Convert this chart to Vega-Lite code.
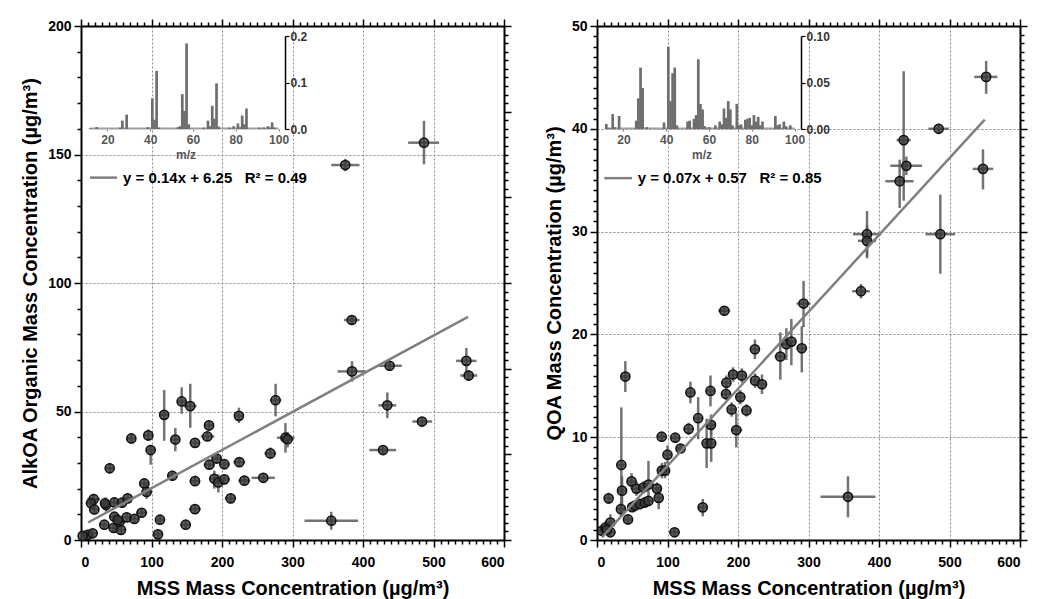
{
  "$schema": "https://vega.github.io/schema/vega-lite/v6.json",
  "background": "white",
  "padding": {"left": 20, "top": 18, "right": 5, "bottom": 2},
  "spacing": 32,
  "config": {
    "view": {"stroke": null},
    "axis": {
      "domainColor": "black", "domainWidth": 2, "tickColor": "black", "tickWidth": 1.5,
      "labelFont": "Liberation Sans", "labelFontWeight": "bold", "labelFontSize": 14, "labelColor": "black",
      "titleFont": "Liberation Sans", "titleFontWeight": "bold", "titleFontSize": 20, "titleColor": "black",
      "labelOverlap": false
    }
  },
  "datasets": {
    "alk": [
      {"x":118,"y":48.7,"xlo":112,"xhi":124,"ylo":38.6,"yhi":58.3},
      {"x":142.8,"y":53.9,"xlo":136,"xhi":150,"ylo":49.1,"yhi":59.4},
      {"x":155,"y":52.1,"xlo":146,"xhi":164,"ylo":43.7,"yhi":60.8},
      {"x":276,"y":54.4,"xlo":268,"xhi":284,"ylo":48.1,"yhi":60.8},
      {"x":224,"y":48.3,"xlo":217,"xhi":231,"ylo":45.5,"yhi":51.5},
      {"x":71.4,"y":39.5,"xlo":65,"xhi":78,"ylo":37.5,"yhi":41.5},
      {"x":95.5,"y":40.7,"xlo":89,"xhi":102,"ylo":38.5,"yhi":43},
      {"x":98.8,"y":35,"xlo":93,"xhi":105,"ylo":29.3,"yhi":37},
      {"x":133.8,"y":39.1,"xlo":127,"xhi":140,"ylo":34.5,"yhi":43.6},
      {"x":161.7,"y":37.8,"xlo":154,"xhi":169,"ylo":36,"yhi":39.6},
      {"x":181.6,"y":44.6,"xlo":175,"xhi":188,"ylo":42.5,"yhi":46.5},
      {"x":179.2,"y":40.3,"xlo":170,"xhi":189,"ylo":38.5,"yhi":42},
      {"x":290,"y":39.8,"xlo":278,"xhi":303,"ylo":34,"yhi":45.5},
      {"x":293,"y":39.2,"xlo":285,"xhi":301,"ylo":36,"yhi":42},
      {"x":268.6,"y":33.7,"xlo":260,"xhi":277,"ylo":31.5,"yhi":36},
      {"x":224.6,"y":30.3,"xlo":216,"xhi":233,"ylo":28.5,"yhi":32},
      {"x":192.4,"y":31.7,"xlo":185,"xhi":200,"ylo":29.8,"yhi":33.5},
      {"x":182,"y":29.3,"xlo":174,"xhi":190,"ylo":27.5,"yhi":31},
      {"x":203.3,"y":29.5,"xlo":196,"xhi":211,"ylo":27.5,"yhi":31.5},
      {"x":40.7,"y":27.9,"xlo":34,"xhi":47,"ylo":26,"yhi":30},
      {"x":129.6,"y":25,"xlo":122,"xhi":137,"ylo":23,"yhi":27},
      {"x":161.7,"y":22.9,"xlo":154,"xhi":169,"ylo":21,"yhi":25},
      {"x":189.1,"y":23.8,"xlo":182,"xhi":196,"ylo":20,"yhi":27},
      {"x":194.8,"y":22.4,"xlo":187,"xhi":203,"ylo":18.5,"yhi":25.5},
      {"x":203.3,"y":23.6,"xlo":195,"xhi":211,"ylo":21.7,"yhi":25.5},
      {"x":231.7,"y":23.1,"xlo":223,"xhi":240,"ylo":21.3,"yhi":25},
      {"x":258.6,"y":24.2,"xlo":242,"xhi":275,"ylo":22.5,"yhi":26},
      {"x":89.8,"y":22,"xlo":83,"xhi":97,"ylo":20,"yhi":24},
      {"x":93.1,"y":18.7,"xlo":86,"xhi":100,"ylo":16,"yhi":21.5},
      {"x":212.3,"y":16.2,"xlo":204,"xhi":220,"ylo":14.5,"yhi":18},
      {"x":161.7,"y":12,"xlo":153,"xhi":170,"ylo":10.3,"yhi":13.7},
      {"x":112,"y":7.9,"xlo":105,"xhi":119,"ylo":6,"yhi":9.8},
      {"x":148.5,"y":5.95,"xlo":141,"xhi":156,"ylo":4.3,"yhi":7.6},
      {"x":109.2,"y":2.2,"xlo":102,"xhi":116,"ylo":0.5,"yhi":3.9},
      {"x":18,"y":15.9,"xlo":9,"xhi":27,"ylo":13.8,"yhi":18},
      {"x":14.2,"y":14.3,"xlo":7,"xhi":22,"ylo":12.3,"yhi":16.3},
      {"x":18.9,"y":11.9,"xlo":12,"xhi":26,"ylo":10,"yhi":13.8},
      {"x":35.5,"y":13.6,"xlo":28,"xhi":43,"ylo":11,"yhi":16.5},
      {"x":34,"y":14.3,"xlo":28,"xhi":40,"ylo":12,"yhi":16.5},
      {"x":47.3,"y":14.6,"xlo":40,"xhi":55,"ylo":12.7,"yhi":16.5},
      {"x":58.2,"y":14.5,"xlo":51,"xhi":65,"ylo":12.6,"yhi":16.4},
      {"x":66.2,"y":16.2,"xlo":59,"xhi":73,"ylo":14.4,"yhi":18},
      {"x":33.1,"y":5.95,"xlo":26,"xhi":40,"ylo":4.2,"yhi":7.7},
      {"x":47.3,"y":9.06,"xlo":40,"xhi":55,"ylo":7.3,"yhi":10.8},
      {"x":46.3,"y":4.7,"xlo":39,"xhi":54,"ylo":3,"yhi":6.5},
      {"x":54.4,"y":6.9,"xlo":47,"xhi":62,"ylo":5.2,"yhi":8.6},
      {"x":56.7,"y":3.9,"xlo":49,"xhi":64,"ylo":2.2,"yhi":5.6},
      {"x":64.8,"y":8.8,"xlo":57,"xhi":72,"ylo":7,"yhi":10.6},
      {"x":75.7,"y":8.2,"xlo":68,"xhi":83,"ylo":6.5,"yhi":10},
      {"x":86,"y":10.6,"xlo":78,"xhi":94,"ylo":8.9,"yhi":12.4},
      {"x":52,"y":7.8,"xlo":45,"xhi":59,"ylo":6,"yhi":9.6},
      {"x":9.5,"y":2,"xlo":4,"xhi":15,"ylo":0.8,"yhi":3.2},
      {"x":16.5,"y":2.6,"xlo":10,"xhi":23,"ylo":1.2,"yhi":4},
      {"x":2.4,"y":1.6,"xlo":0,"xhi":6,"ylo":0.8,"yhi":2.4},
      {"x":374.9,"y":145.9,"xlo":355,"xhi":395,"ylo":143.5,"yhi":148.3},
      {"x":486.5,"y":154.6,"xlo":464,"xhi":508,"ylo":146.2,"yhi":163.1},
      {"x":384,"y":85.6,"xlo":373,"xhi":395,"ylo":84,"yhi":87.2},
      {"x":384.4,"y":65.6,"xlo":364,"xhi":404,"ylo":61.6,"yhi":69.6},
      {"x":437.8,"y":67.8,"xlo":421,"xhi":455,"ylo":65.8,"yhi":69.8},
      {"x":546.6,"y":69.7,"xlo":532,"xhi":561,"ylo":64.7,"yhi":74.7},
      {"x":549.9,"y":64,"xlo":538,"xhi":562,"ylo":62,"yhi":66},
      {"x":434.5,"y":52.4,"xlo":422,"xhi":447,"ylo":47.4,"yhi":57.4},
      {"x":483.7,"y":46.1,"xlo":470,"xhi":498,"ylo":44.3,"yhi":47.9},
      {"x":428.4,"y":35,"xlo":409,"xhi":447,"ylo":33.2,"yhi":36.8},
      {"x":355,"y":7.5,"xlo":317,"xhi":393,"ylo":4,"yhi":11}
    ],
    "qoa": [
      {"x":7,"y":0.9,"xlo":3,"xhi":12,"ylo":0.4,"yhi":1.4},
      {"x":12,"y":1.2,"xlo":6,"xhi":18,"ylo":0.6,"yhi":1.8},
      {"x":19,"y":1.7,"xlo":13,"xhi":25,"ylo":0.9,"yhi":2.5},
      {"x":19,"y":0.75,"xlo":13,"xhi":26,"ylo":0.3,"yhi":1.2},
      {"x":14,"y":1,"xlo":9,"xhi":20,"ylo":0.5,"yhi":1.5},
      {"x":16.5,"y":4.05,"xlo":11,"xhi":22,"ylo":3.5,"yhi":4.6},
      {"x":34,"y":3,"xlo":28,"xhi":40,"ylo":2.3,"yhi":3.7},
      {"x":35.5,"y":4.8,"xlo":30,"xhi":41,"ylo":3.4,"yhi":6.2},
      {"x":34.5,"y":7.3,"xlo":30,"xhi":39,"ylo":3.5,"yhi":12.9},
      {"x":40.2,"y":15.9,"xlo":35,"xhi":46,"ylo":14.4,"yhi":17.4},
      {"x":44,"y":2,"xlo":38,"xhi":50,"ylo":1.5,"yhi":2.5},
      {"x":49,"y":5.7,"xlo":43,"xhi":55,"ylo":4.9,"yhi":6.5},
      {"x":50,"y":3.2,"xlo":44,"xhi":56,"ylo":2.7,"yhi":3.7},
      {"x":54,"y":3.35,"xlo":48,"xhi":60,"ylo":2.9,"yhi":3.8},
      {"x":56,"y":5,"xlo":50,"xhi":62,"ylo":4.3,"yhi":5.7},
      {"x":61,"y":3.5,"xlo":55,"xhi":67,"ylo":3,"yhi":4},
      {"x":65.7,"y":5.1,"xlo":60,"xhi":72,"ylo":4.5,"yhi":5.7},
      {"x":68,"y":3.65,"xlo":62,"xhi":74,"ylo":3.1,"yhi":4.2},
      {"x":73,"y":3.8,"xlo":67,"xhi":79,"ylo":3.3,"yhi":4.3},
      {"x":73,"y":5.4,"xlo":67,"xhi":79,"ylo":4,"yhi":7.7},
      {"x":85,"y":5,"xlo":79,"xhi":91,"ylo":4.4,"yhi":5.6},
      {"x":87.5,"y":4.1,"xlo":82,"xhi":93,"ylo":3,"yhi":5.2},
      {"x":92,"y":6.75,"xlo":86,"xhi":98,"ylo":6,"yhi":7.5},
      {"x":96.5,"y":6.75,"xlo":90,"xhi":103,"ylo":6,"yhi":7.6},
      {"x":100,"y":8.3,"xlo":94,"xhi":106,"ylo":7.4,"yhi":9.2},
      {"x":91.7,"y":10.05,"xlo":86,"xhi":98,"ylo":9.6,"yhi":10.5},
      {"x":111,"y":9.95,"xlo":105,"xhi":117,"ylo":9.5,"yhi":10.4},
      {"x":110,"y":0.75,"xlo":103,"xhi":117,"ylo":0.4,"yhi":1.1},
      {"x":118.5,"y":8.9,"xlo":112,"xhi":125,"ylo":8.5,"yhi":9.3},
      {"x":130,"y":10.8,"xlo":123,"xhi":137,"ylo":10.2,"yhi":11.4},
      {"x":132.5,"y":14.35,"xlo":126,"xhi":139,"ylo":13.3,"yhi":15.4},
      {"x":143.5,"y":11.85,"xlo":137,"xhi":150,"ylo":9.8,"yhi":13.9},
      {"x":150,"y":3.17,"xlo":144,"xhi":156,"ylo":2.3,"yhi":4},
      {"x":155.5,"y":9.4,"xlo":149,"xhi":162,"ylo":7,"yhi":11.8},
      {"x":162,"y":9.4,"xlo":156,"xhi":168,"ylo":7.6,"yhi":11.3},
      {"x":161,"y":14.5,"xlo":155,"xhi":167,"ylo":13,"yhi":16},
      {"x":161.7,"y":11.2,"xlo":155,"xhi":168,"ylo":10.2,"yhi":12.2},
      {"x":180.6,"y":22.3,"xlo":172,"xhi":189,"ylo":21.9,"yhi":22.7},
      {"x":183.5,"y":15.3,"xlo":177,"xhi":190,"ylo":14.6,"yhi":16},
      {"x":183,"y":14.2,"xlo":176,"xhi":190,"ylo":13.6,"yhi":14.8},
      {"x":191,"y":12.7,"xlo":185,"xhi":197,"ylo":12,"yhi":13.4},
      {"x":193,"y":16.1,"xlo":187,"xhi":199,"ylo":15.4,"yhi":16.8},
      {"x":197.6,"y":10.7,"xlo":190,"xhi":206,"ylo":9,"yhi":12.4},
      {"x":203.3,"y":13.9,"xlo":197,"xhi":210,"ylo":13.2,"yhi":14.6},
      {"x":205.5,"y":16,"xlo":199,"xhi":212,"ylo":15.3,"yhi":16.7},
      {"x":212,"y":12.6,"xlo":205,"xhi":219,"ylo":12,"yhi":13.2},
      {"x":224.3,"y":15.5,"xlo":218,"xhi":231,"ylo":14.8,"yhi":16.2},
      {"x":224,"y":18.55,"xlo":218,"xhi":230,"ylo":17.6,"yhi":19.5},
      {"x":234,"y":15.15,"xlo":227,"xhi":241,"ylo":14.2,"yhi":16.1},
      {"x":260,"y":17.85,"xlo":252,"xhi":268,"ylo":15.6,"yhi":20.2},
      {"x":268.6,"y":19.05,"xlo":262,"xhi":275,"ylo":17.5,"yhi":20.6},
      {"x":275.7,"y":19.3,"xlo":269,"xhi":283,"ylo":17,"yhi":21.5},
      {"x":290.5,"y":18.65,"xlo":283,"xhi":298,"ylo":16.3,"yhi":20.8},
      {"x":293,"y":23,"xlo":283,"xhi":303,"ylo":20.7,"yhi":25.2},
      {"x":356,"y":4.2,"xlo":317,"xhi":395,"ylo":2.2,"yhi":6.2},
      {"x":374.5,"y":24.2,"xlo":362,"xhi":387,"ylo":23.5,"yhi":24.9},
      {"x":383,"y":29.75,"xlo":363,"xhi":403,"ylo":27.4,"yhi":32},
      {"x":383,"y":29.1,"xlo":370,"xhi":396,"ylo":27.6,"yhi":30.6},
      {"x":429.3,"y":34.9,"xlo":409,"xhi":449,"ylo":32.3,"yhi":37},
      {"x":435,"y":38.9,"xlo":425,"xhi":445,"ylo":33,"yhi":45.6},
      {"x":438.8,"y":36.4,"xlo":416,"xhi":461,"ylo":35.5,"yhi":37.3},
      {"x":484.6,"y":40,"xlo":470,"xhi":499,"ylo":39.5,"yhi":40.5},
      {"x":487,"y":29.75,"xlo":466,"xhi":508,"ylo":25.9,"yhi":33.6},
      {"x":547.5,"y":36.1,"xlo":533,"xhi":562,"ylo":34.1,"yhi":38},
      {"x":552,"y":45.05,"xlo":535,"xhi":568,"ylo":43.4,"yhi":46.6}
    ],
    "specA": [
      {"mz":12,"f":0.002},{"mz":15,"f":0.004},{"mz":26,"f":0.003},{"mz":27,"f":0.018},{"mz":29,"f":0.031},
      {"mz":39,"f":0.004},{"mz":41,"f":0.066},{"mz":42,"f":0.02},{"mz":43,"f":0.125},{"mz":44,"f":0.003},
      {"mz":53,"f":0.004},{"mz":54,"f":0.006},{"mz":55,"f":0.075},{"mz":56,"f":0.039},{"mz":57,"f":0.184},
      {"mz":58,"f":0.01},{"mz":65,"f":0.003},{"mz":67,"f":0.018},{"mz":68,"f":0.006},{"mz":69,"f":0.05},
      {"mz":70,"f":0.022},{"mz":71,"f":0.098},{"mz":72,"f":0.005},{"mz":77,"f":0.003},{"mz":79,"f":0.006},
      {"mz":81,"f":0.012},{"mz":82,"f":0.004},{"mz":83,"f":0.029},{"mz":84,"f":0.01},{"mz":85,"f":0.044},
      {"mz":91,"f":0.003},{"mz":93,"f":0.003},{"mz":95,"f":0.006},{"mz":96,"f":0.003},{"mz":97,"f":0.014},
      {"mz":98,"f":0.003}
    ],
    "specQ": [
      {"mz":12,"f":0.0055},{"mz":13,"f":0.001},{"mz":15,"f":0.016},{"mz":16,"f":0.002},{"mz":18,"f":0.014},
      {"mz":26,"f":0.009},{"mz":27,"f":0.033},{"mz":28,"f":0.066},{"mz":29,"f":0.044},{"mz":31,"f":0.002},
      {"mz":39,"f":0.007},{"mz":41,"f":0.0885},{"mz":42,"f":0.03},{"mz":43,"f":0.06},{"mz":44,"f":0.066},
      {"mz":45,"f":0.004},{"mz":50,"f":0.008},{"mz":51,"f":0.009},{"mz":53,"f":0.011},{"mz":54,"f":0.015},
      {"mz":55,"f":0.075},{"mz":56,"f":0.027},{"mz":57,"f":0.021},{"mz":58,"f":0.003},{"mz":60,"f":0.002},
      {"mz":63,"f":0.004},{"mz":65,"f":0.008},{"mz":66,"f":0.005},{"mz":67,"f":0.022},{"mz":68,"f":0.012},
      {"mz":69,"f":0.03},{"mz":70,"f":0.021},{"mz":71,"f":0.004},{"mz":73,"f":0.027},{"mz":74,"f":0.004},
      {"mz":75,"f":0.005},{"mz":77,"f":0.01},{"mz":78,"f":0.011},{"mz":79,"f":0.012},{"mz":80,"f":0.004},
      {"mz":81,"f":0.015},{"mz":82,"f":0.008},{"mz":83,"f":0.013},{"mz":84,"f":0.004},{"mz":85,"f":0.008},
      {"mz":91,"f":0.014},{"mz":92,"f":0.004},{"mz":93,"f":0.005},{"mz":95,"f":0.008},{"mz":96,"f":0.003},
      {"mz":98,"f":0.004}
    ]
  },
  "hconcat": [
    {
      "width": 423, "height": 514,
      "resolve": {"scale": {"x": "independent", "y": "independent"}, "axis": {"x": "independent", "y": "independent"}},
      "layer": [
        {
          "data": {"name": "alk"},
          "mark": {"type": "rule", "color": "#5a5a5a", "strokeWidth": 2.5, "opacity": 0.85},
          "encoding": {
            "x": {"field": "xlo", "type": "quantitative", "scale": {"domain": [0, 600], "nice": false, "zero": false},
              "axis": {"orient": "bottom", "values": [0,10,20,30,40,50,60,70,80,90,100,110,120,130,140,150,160,170,180,190,200,210,220,230,240,250,260,270,280,290,300,310,320,330,340,350,360,370,380,390,400,410,420,430,440,450,460,470,480,490,500,510,520,530,540,550,560,570,580,590,600],
                "labelExpr": "datum.value % 100 === 0 ? datum.label : ''",
                "tickSize": {"condition": {"test": "datum.value % 100 === 0", "value": 7}, "value": 4},
                "grid": true, "gridDash": [2, 2], "gridColor": "#888", "gridWidth": 1,
                "gridOpacity": {"condition": {"test": "datum.value % 100 === 0 && datum.value > 0 && datum.value < 600", "value": 1}, "value": 0},
                "labelPadding": 8, "titlePadding": 9, "title": "MSS Mass Concentration (µg/m³)"}},
            "x2": {"field": "xhi"},
            "y": {"field": "y", "type": "quantitative", "scale": {"domain": [0, 200], "nice": false, "zero": false},
              "axis": {"orient": "left", "values": [0,10,20,30,40,50,60,70,80,90,100,110,120,130,140,150,160,170,180,190,200],
                "labelExpr": "datum.value % 50 === 0 ? datum.label : ''",
                "tickSize": {"condition": {"test": "datum.value % 50 === 0", "value": 7}, "value": 4},
                "grid": true, "gridDash": [2, 2], "gridColor": "#888", "gridWidth": 1,
                "gridOpacity": {"condition": {"test": "datum.value % 50 === 0 && datum.value > 0 && datum.value < 200", "value": 1}, "value": 0},
                "labelPadding": 3, "titlePadding": 7, "title": "AlkOA Organic Mass Concentration (µg/m³)"}}
          }
        },
        {
          "data": {"name": "alk"},
          "mark": {"type": "rule", "color": "#5a5a5a", "strokeWidth": 2.5, "opacity": 0.85},
          "encoding": {
            "x": {"field": "x", "type": "quantitative", "scale": {"domain": [0, 600], "nice": false, "zero": false}, "axis": null},
            "y": {"field": "ylo", "type": "quantitative", "scale": {"domain": [0, 200], "nice": false, "zero": false}, "axis": null},
            "y2": {"field": "yhi"}
          }
        },
        {
          "data": {"name": "alk"},
          "mark": {"type": "point", "shape": "circle", "filled": true, "size": 85, "fill": "#3a3a3a", "fillOpacity": 0.8, "stroke": "#111111", "strokeWidth": 1.5},
          "encoding": {
            "x": {"field": "x", "type": "quantitative", "scale": {"domain": [0, 600], "nice": false, "zero": false}, "axis": null},
            "y": {"field": "y", "type": "quantitative", "scale": {"domain": [0, 200], "nice": false, "zero": false}, "axis": null}
          }
        },
        {
          "data": {"values": [{"x": 10, "y": 6.8}, {"x": 549, "y": 86.8}]},
          "mark": {"type": "line", "color": "#808080", "strokeWidth": 2.5},
          "encoding": {
            "x": {"field": "x", "type": "quantitative", "scale": {"domain": [0, 600], "nice": false, "zero": false}, "axis": null},
            "y": {"field": "y", "type": "quantitative", "scale": {"domain": [0, 200], "nice": false, "zero": false}, "axis": null}
          }
        },
        {
          "data": {"values": [{}]},
          "mark": {"type": "rule", "color": "#808080", "strokeWidth": 2.5},
          "encoding": {
            "x": {"datum": 12.8, "type": "quantitative", "scale": {"domain": [0, 600], "nice": false, "zero": false}, "axis": null},
            "x2": {"datum": 51},
            "y": {"datum": 141, "type": "quantitative", "scale": {"domain": [0, 200], "nice": false, "zero": false}, "axis": null}
          }
        },
        {
          "data": {"values": [{}]},
          "mark": {"type": "text", "align": "left", "baseline": "middle", "font": "Liberation Sans", "fontWeight": "bold", "fontSize": 15, "color": "black"},
          "encoding": {
            "x": {"datum": 59.6, "type": "quantitative", "scale": {"domain": [0, 600], "nice": false, "zero": false}, "axis": null},
            "y": {"datum": 141, "type": "quantitative", "scale": {"domain": [0, 200], "nice": false, "zero": false}, "axis": null},
            "text": {"value": "y = 0.14x + 6.25\u00a0\u00a0\u00a0R² = 0.49"}
          }
        },
        {
          "data": {"values": [{}]},
          "mark": {"type": "point", "opacity": 0},
          "encoding": {
            "x": {"datum": 0, "type": "quantitative", "scale": {"domain": [0, 600], "nice": false, "zero": false},
              "axis": {"orient": "top", "values": [0,10,20,30,40,50,60,70,80,90,100,110,120,130,140,150,160,170,180,190,200,210,220,230,240,250,260,270,280,290,300,310,320,330,340,350,360,370,380,390,400,410,420,430,440,450,460,470,480,490,500,510,520,530,540,550,560,570,580,590,600],
                "labels": false, "title": null, "grid": false,
                "tickSize": {"condition": {"test": "datum.value % 100 === 0", "value": 7}, "value": 4}}},
            "y": {"datum": 0, "type": "quantitative", "scale": {"domain": [0, 200], "nice": false, "zero": false},
              "axis": {"orient": "right", "values": [0,3.3333,6.6667,10,13.3333,16.6667,20,23.3333,26.6667,30,33.3333,36.6667,40,43.3333,46.6667,50,53.3333,56.6667,60,63.3333,66.6667,70,73.3333,76.6667,80,83.3333,86.6667,90,93.3333,96.6667,100,103.3333,106.6667,110,113.3333,116.6667,120,123.3333,126.6667,130,133.3333,136.6667,140,143.3333,146.6667,150,153.3333,156.6667,160,163.3333,166.6667,170,173.3333,176.6667,180,183.3333,186.6667,190,193.3333,196.6667,200],
                "labels": false, "title": null, "grid": false,
                "tickSize": {"condition": {"test": "abs(datum.value/33.33333 - round(datum.value/33.33333)) < 0.01", "value": 7}, "value": 4}}}
          }
        },
        {
          "data": {"values": [{}]},
          "mark": {"type": "rule", "color": "#a0a0a0", "strokeWidth": 2},
          "encoding": {
            "x": {"datum": 12, "type": "quantitative", "scale": {"domain": [10, 103], "range": [5, 204], "nice": false, "zero": false}, "axis": null},
            "x2": {"datum": 100},
            "y": {"datum": 0.0012, "type": "quantitative", "scale": {"domain": [0, 0.2], "range": [103, 10], "nice": false, "zero": false}, "axis": null}
          }
        },
        {
          "data": {"name": "specA"},
          "mark": {"type": "rule", "color": "#6e6e6e", "strokeWidth": 2.7, "strokeCap": "butt"},
          "encoding": {
            "x": {"field": "mz", "type": "quantitative", "scale": {"domain": [10, 103], "range": [5, 204], "nice": false, "zero": false},
              "axis": {"orient": "bottom", "offset": -411, "values": [20, 40, 60, 80, 100], "domain": false, "tickSize": 2, "tickColor": "#777", "tickWidth": 1,
                "labelFontSize": 12, "labelColor": "#555", "labelPadding": 3, "title": "m/z", "titleFontSize": 12, "titleColor": "#555", "titlePadding": 4, "grid": false}},
            "y": {"field": "f", "type": "quantitative", "scale": {"domain": [0, 0.2], "range": [103, 10], "nice": false, "zero": false},
              "axis": {"orient": "right", "offset": -219, "values": [0, 0.1, 0.2], "format": ".1f", "domainWidth": 1.5, "tickSize": 4, "tickWidth": 1.2,
                "labelFontSize": 12, "labelColor": "#333", "labelPadding": 1, "title": null, "grid": false}},
            "y2": {"datum": 0}
          }
        }
      ]
    },
    {
      "width": 423, "height": 514,
      "resolve": {"scale": {"x": "independent", "y": "independent"}, "axis": {"x": "independent", "y": "independent"}},
      "layer": [
        {
          "data": {"name": "qoa"},
          "mark": {"type": "rule", "color": "#5a5a5a", "strokeWidth": 2.5, "opacity": 0.85},
          "encoding": {
            "x": {"field": "xlo", "type": "quantitative", "scale": {"domain": [0, 600], "nice": false, "zero": false},
              "axis": {"orient": "bottom", "values": [0,10,20,30,40,50,60,70,80,90,100,110,120,130,140,150,160,170,180,190,200,210,220,230,240,250,260,270,280,290,300,310,320,330,340,350,360,370,380,390,400,410,420,430,440,450,460,470,480,490,500,510,520,530,540,550,560,570,580,590,600],
                "labelExpr": "datum.value % 100 === 0 ? datum.label : ''",
                "tickSize": {"condition": {"test": "datum.value % 100 === 0", "value": 7}, "value": 4},
                "grid": true, "gridDash": [2, 2], "gridColor": "#888", "gridWidth": 1,
                "gridOpacity": {"condition": {"test": "datum.value % 100 === 0 && datum.value > 0 && datum.value < 600", "value": 1}, "value": 0},
                "labelPadding": 8, "titlePadding": 9, "title": "MSS Mass Concentration (µg/m³)"}},
            "x2": {"field": "xhi"},
            "y": {"field": "y", "type": "quantitative", "scale": {"domain": [0, 50], "nice": false, "zero": false},
              "axis": {"orient": "left", "values": [0,1,2,3,4,5,6,7,8,9,10,11,12,13,14,15,16,17,18,19,20,21,22,23,24,25,26,27,28,29,30,31,32,33,34,35,36,37,38,39,40,41,42,43,44,45,46,47,48,49,50],
                "labelExpr": "datum.value % 10 === 0 ? datum.label : ''",
                "tickSize": {"condition": {"test": "datum.value % 10 === 0", "value": 7}, "value": 4},
                "grid": true, "gridDash": [2, 2], "gridColor": "#888", "gridWidth": 1,
                "gridOpacity": {"condition": {"test": "datum.value % 10 === 0 && datum.value > 0 && datum.value < 50", "value": 1}, "value": 0},
                "labelPadding": 3, "titlePadding": 7, "title": "QOA Mass Concentration (µg/m³)"}}
          }
        },
        {
          "data": {"name": "qoa"},
          "mark": {"type": "rule", "color": "#5a5a5a", "strokeWidth": 2.5, "opacity": 0.85},
          "encoding": {
            "x": {"field": "x", "type": "quantitative", "scale": {"domain": [0, 600], "nice": false, "zero": false}, "axis": null},
            "y": {"field": "ylo", "type": "quantitative", "scale": {"domain": [0, 50], "nice": false, "zero": false}, "axis": null},
            "y2": {"field": "yhi"}
          }
        },
        {
          "data": {"name": "qoa"},
          "mark": {"type": "point", "shape": "circle", "filled": true, "size": 85, "fill": "#3a3a3a", "fillOpacity": 0.8, "stroke": "#111111", "strokeWidth": 1.5},
          "encoding": {
            "x": {"field": "x", "type": "quantitative", "scale": {"domain": [0, 600], "nice": false, "zero": false}, "axis": null},
            "y": {"field": "y", "type": "quantitative", "scale": {"domain": [0, 50], "nice": false, "zero": false}, "axis": null}
          }
        },
        {
          "data": {"values": [{"x": 7, "y": 0.25}, {"x": 550, "y": 40.9}]},
          "mark": {"type": "line", "color": "#808080", "strokeWidth": 2.5},
          "encoding": {
            "x": {"field": "x", "type": "quantitative", "scale": {"domain": [0, 600], "nice": false, "zero": false}, "axis": null},
            "y": {"field": "y", "type": "quantitative", "scale": {"domain": [0, 50], "nice": false, "zero": false}, "axis": null}
          }
        },
        {
          "data": {"values": [{}]},
          "mark": {"type": "rule", "color": "#808080", "strokeWidth": 2.5},
          "encoding": {
            "x": {"datum": 10.4, "type": "quantitative", "scale": {"domain": [0, 600], "nice": false, "zero": false}, "axis": null},
            "x2": {"datum": 49.6},
            "y": {"datum": 35.2, "type": "quantitative", "scale": {"domain": [0, 50], "nice": false, "zero": false}, "axis": null}
          }
        },
        {
          "data": {"values": [{}]},
          "mark": {"type": "text", "align": "left", "baseline": "middle", "font": "Liberation Sans", "fontWeight": "bold", "fontSize": 15, "color": "black"},
          "encoding": {
            "x": {"datum": 57.7, "type": "quantitative", "scale": {"domain": [0, 600], "nice": false, "zero": false}, "axis": null},
            "y": {"datum": 35.2, "type": "quantitative", "scale": {"domain": [0, 50], "nice": false, "zero": false}, "axis": null},
            "text": {"value": "y = 0.07x + 0.57\u00a0\u00a0\u00a0R² = 0.85"}
          }
        },
        {
          "data": {"values": [{}]},
          "mark": {"type": "point", "opacity": 0},
          "encoding": {
            "x": {"datum": 0, "type": "quantitative", "scale": {"domain": [0, 600], "nice": false, "zero": false},
              "axis": {"orient": "top", "values": [0,10,20,30,40,50,60,70,80,90,100,110,120,130,140,150,160,170,180,190,200,210,220,230,240,250,260,270,280,290,300,310,320,330,340,350,360,370,380,390,400,410,420,430,440,450,460,470,480,490,500,510,520,530,540,550,560,570,580,590,600],
                "labels": false, "title": null, "grid": false,
                "tickSize": {"condition": {"test": "datum.value % 100 === 0", "value": 7}, "value": 4}}},
            "y": {"datum": 0, "type": "quantitative", "scale": {"domain": [0, 50], "nice": false, "zero": false},
              "axis": {"orient": "right", "values": [0,0.8333,1.6667,2.5,3.3333,4.1667,5,5.8333,6.6667,7.5,8.3333,9.1667,10,10.8333,11.6667,12.5,13.3333,14.1667,15,15.8333,16.6667,17.5,18.3333,19.1667,20,20.8333,21.6667,22.5,23.3333,24.1667,25,25.8333,26.6667,27.5,28.3333,29.1667,30,30.8333,31.6667,32.5,33.3333,34.1667,35,35.8333,36.6667,37.5,38.3333,39.1667,40,40.8333,41.6667,42.5,43.3333,44.1667,45,45.8333,46.6667,47.5,48.3333,49.1667,50],
                "labels": false, "title": null, "grid": false,
                "tickSize": {"condition": {"test": "abs(datum.value/10 - round(datum.value/10)) < 0.001", "value": 7}, "value": 4}}}
          }
        },
        {
          "data": {"values": [{}]},
          "mark": {"type": "rule", "color": "#a0a0a0", "strokeWidth": 2},
          "encoding": {
            "x": {"datum": 12, "type": "quantitative", "scale": {"domain": [10, 103], "range": [5, 204], "nice": false, "zero": false}, "axis": null},
            "x2": {"datum": 100},
            "y": {"datum": 0.0006, "type": "quantitative", "scale": {"domain": [0, 0.1], "range": [103, 10], "nice": false, "zero": false}, "axis": null}
          }
        },
        {
          "data": {"name": "specQ"},
          "mark": {"type": "rule", "color": "#6e6e6e", "strokeWidth": 2.7, "strokeCap": "butt"},
          "encoding": {
            "x": {"field": "mz", "type": "quantitative", "scale": {"domain": [10, 103], "range": [5, 204], "nice": false, "zero": false},
              "axis": {"orient": "bottom", "offset": -411, "values": [20, 40, 60, 80, 100], "domain": false, "tickSize": 2, "tickColor": "#777", "tickWidth": 1,
                "labelFontSize": 12, "labelColor": "#555", "labelPadding": 3, "title": "m/z", "titleFontSize": 12, "titleColor": "#555", "titlePadding": 4, "grid": false}},
            "y": {"field": "f", "type": "quantitative", "scale": {"domain": [0, 0.1], "range": [103, 10], "nice": false, "zero": false},
              "axis": {"orient": "right", "offset": -219, "values": [0, 0.05, 0.1], "format": ".2f", "domainWidth": 1.5, "tickSize": 4, "tickWidth": 1.2,
                "labelFontSize": 12, "labelColor": "#333", "labelPadding": 1, "title": null, "grid": false}},
            "y2": {"datum": 0}
          }
        }
      ]
    }
  ]
}
